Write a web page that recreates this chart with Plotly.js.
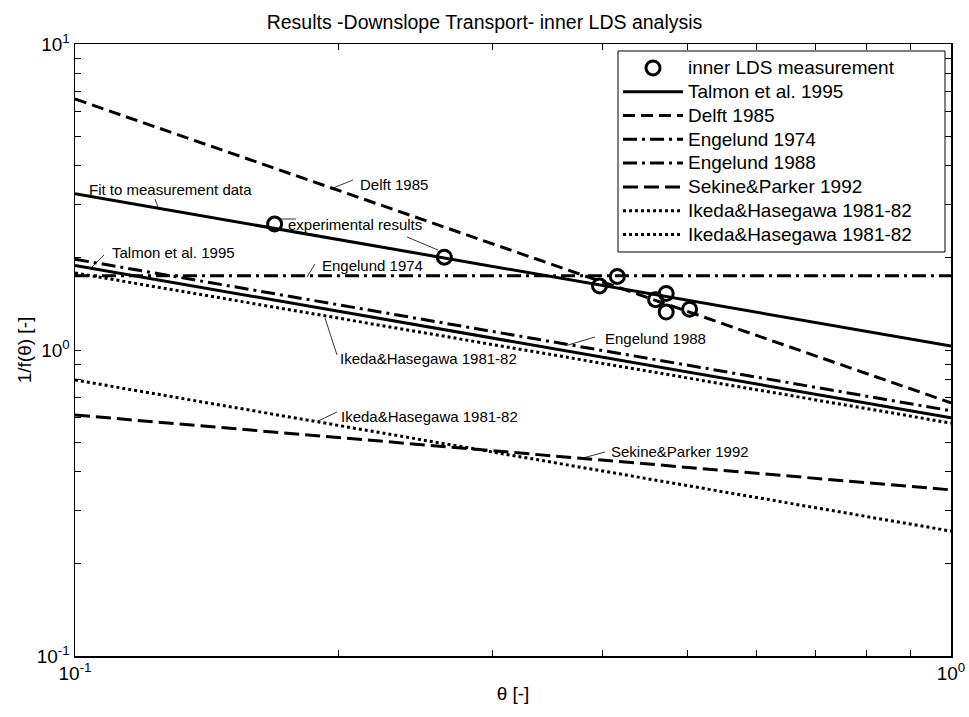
<!DOCTYPE html>
<html>
<head>
<meta charset="utf-8">
<script src="https://cdn.plot.ly/plotly-3.0.1.min.js"></script>
<style>html,body{margin:0;padding:0;background:#fff;}#chart{width:969px;height:717px;}</style>
</head>
<body>
<div id="chart"></div>
<script>
// ---- data ----
const thetaRange   = [0.1, 1.0];
const fitData      = [3.24, 1.03];
const talmon1995   = [1.89, 0.60];
const delft1985    = [6.61, 0.672];
const engelund1974 = [1.75, 1.75];
const engelund1988 = [1.98, 0.633];
const sekine1992   = [0.613, 0.349];
const ikedaUpper   = [1.785, 0.577];
const ikedaLower   = [0.798, 0.256];
const measTheta    = [0.169, 0.264, 0.397, 0.416, 0.460, 0.473, 0.473, 0.503];
const measValue    = [2.58, 2.01, 1.62, 1.74, 1.46, 1.53, 1.33, 1.36];
const xTickVals  = [0.1, 1];
const xTickText  = ['10<sup>-1</sup>', '10<sup>0</sup>'];
const xMinorVals = [0.2,0.3,0.4,0.5,0.6,0.7,0.8,0.9];
const yTickVals  = [0.1, 1, 10];
const yTickText  = ['10<sup>-1</sup>', '10<sup>0</sup>', '10<sup>1</sup>'];
const yMinorVals = [0.2,0.3,0.4,0.5,0.6,0.7,0.8,0.9,2,3,4,5,6,7,8,9];

// ---- layout helpers (pixel -> paper) ----
const W = 969, H = 717, ML = 75, MR = 18, MT = 44, MB = 61;
const PW = W - ML - MR, PH = H - MT - MB;
const px = x => (x - ML) / PW;
const py = y => (H - MB - y) / PH;
const FONT = 'Liberation Sans, Arial, sans-serif';
const big = t => '<span style="font-size:19px">' + t + '</span>';

function line(name, y, dash, show) {
  return {x: thetaRange, y: y, mode: 'lines', name: show ? big(name) : name, showlegend: show,
          line: {color: '#000', width: 3, dash: dash}};
}
const traces = [
  {x: measTheta, y: measValue, mode: 'markers', name: big('inner LDS measurement'),
   marker: {symbol: 'circle-open', size: 14, color: '#000', line: {width: 3, color: '#000'}}},
  line('Talmon et al. 1995', talmon1995, 'solid', true),
  line('Delft 1985', delft1985, '12px,6px', true),
  line('Engelund 1974', engelund1974, '14px,5px,3px,5px', true),
  line('Engelund 1988', engelund1988, '14px,5px,3px,5px', true),
  line('Sekine&Parker 1992', sekine1992, '15px,6px', true),
  line('Ikeda&Hasegawa 1981-82', ikedaUpper, '3px,3px', true),
  line('Ikeda&Hasegawa 1981-82', ikedaLower, '3px,3px', true),
  line('Fit to measurement data', fitData, 'solid', false)
];

const labels = [
  ['Fit to measurement data', 86.7, 189],
  ['Delft 1985', 357.7, 184.3],
  ['experimental results', 286, 225],
  ['Talmon et al. 1995', 110, 252.7],
  ['Engelund 1974', 320, 265.7],
  ['Engelund 1988', 603.3, 338.3],
  ['Ikeda&Hasegawa 1981-82', 338.3, 358.3],
  ['Ikeda&Hasegawa 1981-82', 339.3, 416],
  ['Sekine&Parker 1992', 609, 451.7]
];
const leaders = [
  [155,199,158,207],[333,188,353,180],[280,219,296,219],[407,237,438,250],
  [104,255,92,267],[315,264,307,277],[595,337,568,345],[337,355,325,318],
  [337,412,318,421],[605,452,583,458]
];

const annotations = labels.map(l => ({text: l[0], x: px(l[1]), y: py(l[2]), xref: 'paper', yref: 'paper',
    xanchor: 'left', yanchor: 'middle', showarrow: false, font: {size: 15}}));

const shapes = leaders.map(s => ({type: 'line', xref: 'paper', yref: 'paper',
    x0: px(s[0]), y0: py(s[1]), x1: px(s[2]), y1: py(s[3]), line: {color: '#000', width: 0.8}}));
shapes.push({type: 'rect', xref: 'paper', yref: 'paper', x0: px(618), x1: px(945), y0: py(252), y1: py(51),
    line: {color: '#000', width: 1}, fillcolor: '#fff', layer: 'below'});

const axisCommon = {
  type: 'log', tickmode: 'array', ticks: 'inside', ticklen: 6, tickwidth: 1, tickcolor: '#000',
  mirror: 'ticks', showline: true, linecolor: '#000', linewidth: 1.5, showgrid: false, zeroline: false,
  tickfont: {size: 19}
};
const layout = {
  width: W, height: H,
  margin: {l: ML, r: MR, t: MT, b: MB},
  paper_bgcolor: '#fff', plot_bgcolor: 'rgba(0,0,0,0)',
  font: {family: FONT, size: 19, color: '#000'},
  title: {text: 'Results -Downslope Transport- inner LDS analysis', font: {size: 19.5},
          x: 0.5, xref: 'container', xanchor: 'center', y: 1 - 22 / H, yref: 'container', yanchor: 'middle'},
  xaxis: Object.assign({}, axisCommon, {range: [-1, 0], tickvals: xTickVals, ticktext: xTickText,
          title: {text: 'θ [-]', font: {size: 19}, standoff: 3},
          minor: {tickmode: 'array', tickvals: xMinorVals, ticks: 'inside', ticklen: 6, tickwidth: 1, tickcolor: '#000', showgrid: false}}),
  yaxis: Object.assign({}, axisCommon, {range: [-1, 1], tickvals: yTickVals, ticktext: yTickText,
          title: {text: '1/f(θ) [-]', font: {size: 19}, standoff: 0},
          minor: {tickmode: 'array', tickvals: yMinorVals, ticks: 'inside', ticklen: 6, tickwidth: 1, tickcolor: '#000', showgrid: false}}),
  legend: {x: px(618), y: py(51), xanchor: 'left', yanchor: 'top', bgcolor: 'rgba(0,0,0,0)',
           borderwidth: 0, font: {size: 16}, itemwidth: 60, tracegroupgap: 0},
  annotations: annotations,
  shapes: shapes,
  showlegend: true
};

Plotly.newPlot('chart', traces, layout, {displayModeBar: false, staticPlot: true});
</script>
</body>
</html>
